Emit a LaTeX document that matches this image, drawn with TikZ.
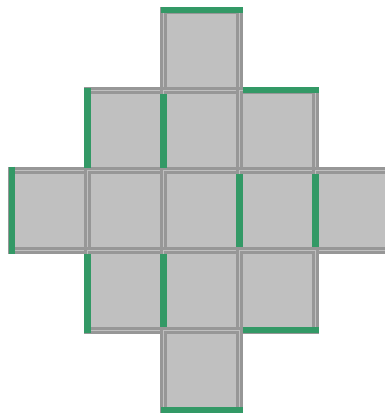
\documentclass[tikz,border=0pt]{standalone}
\definecolor{tilegray}{HTML}{C0C0C0}
\definecolor{edgegray}{HTML}{979797}
\definecolor{markgreen}{HTML}{339966}
\begin{document}
\begin{tikzpicture}[x=1pt,y=-1pt,line join=miter,
  tile/.style={fill=tilegray,draw=edgegray,line width=3pt,double=tilegray,double distance=1pt},
  greenedge/.style={draw=markgreen,line width=6.5pt}]
  \useasboundingbox (0,0) rectangle (384,413);
  \draw[tile] (163.5,10) rectangle (239.5,90);
  \draw[tile] (87.5,90) rectangle (163.5,170);
  \draw[tile] (163.5,90) rectangle (239.5,170);
  \draw[tile] (239.5,90) rectangle (315.5,170);
  \draw[tile] (11.5,170) rectangle (87.5,250);
  \draw[tile] (87.5,170) rectangle (163.5,250);
  \draw[tile] (163.5,170) rectangle (239.5,250);
  \draw[tile] (239.5,170) rectangle (315.5,250);
  \draw[tile] (315.5,170) rectangle (391.5,250);
  \draw[tile] (87.5,250) rectangle (163.5,330);
  \draw[tile] (163.5,250) rectangle (239.5,330);
  \draw[tile] (239.5,250) rectangle (315.5,330);
  \draw[tile] (163.5,330) rectangle (239.5,410);
  \draw[greenedge] (161,10) -- (242.5,10);
  \draw[greenedge] (87.5,87.5) -- (87.5,167.5);
  \draw[greenedge] (163.5,94) -- (163.5,167.5);
  \draw[greenedge] (242.5,90) -- (319,90);
  \draw[greenedge] (12,166.5) -- (12,253.5);
  \draw[greenedge] (239.5,174) -- (239.5,247);
  \draw[greenedge] (315.5,174) -- (315.5,247);
  \draw[greenedge] (87.5,253.5) -- (87.5,333);
  \draw[greenedge] (163.5,253.5) -- (163.5,326.5);
  \draw[greenedge] (242.5,330) -- (319,330);
  \draw[greenedge] (161,410) -- (242.5,410);
\end{tikzpicture}
\end{document}
